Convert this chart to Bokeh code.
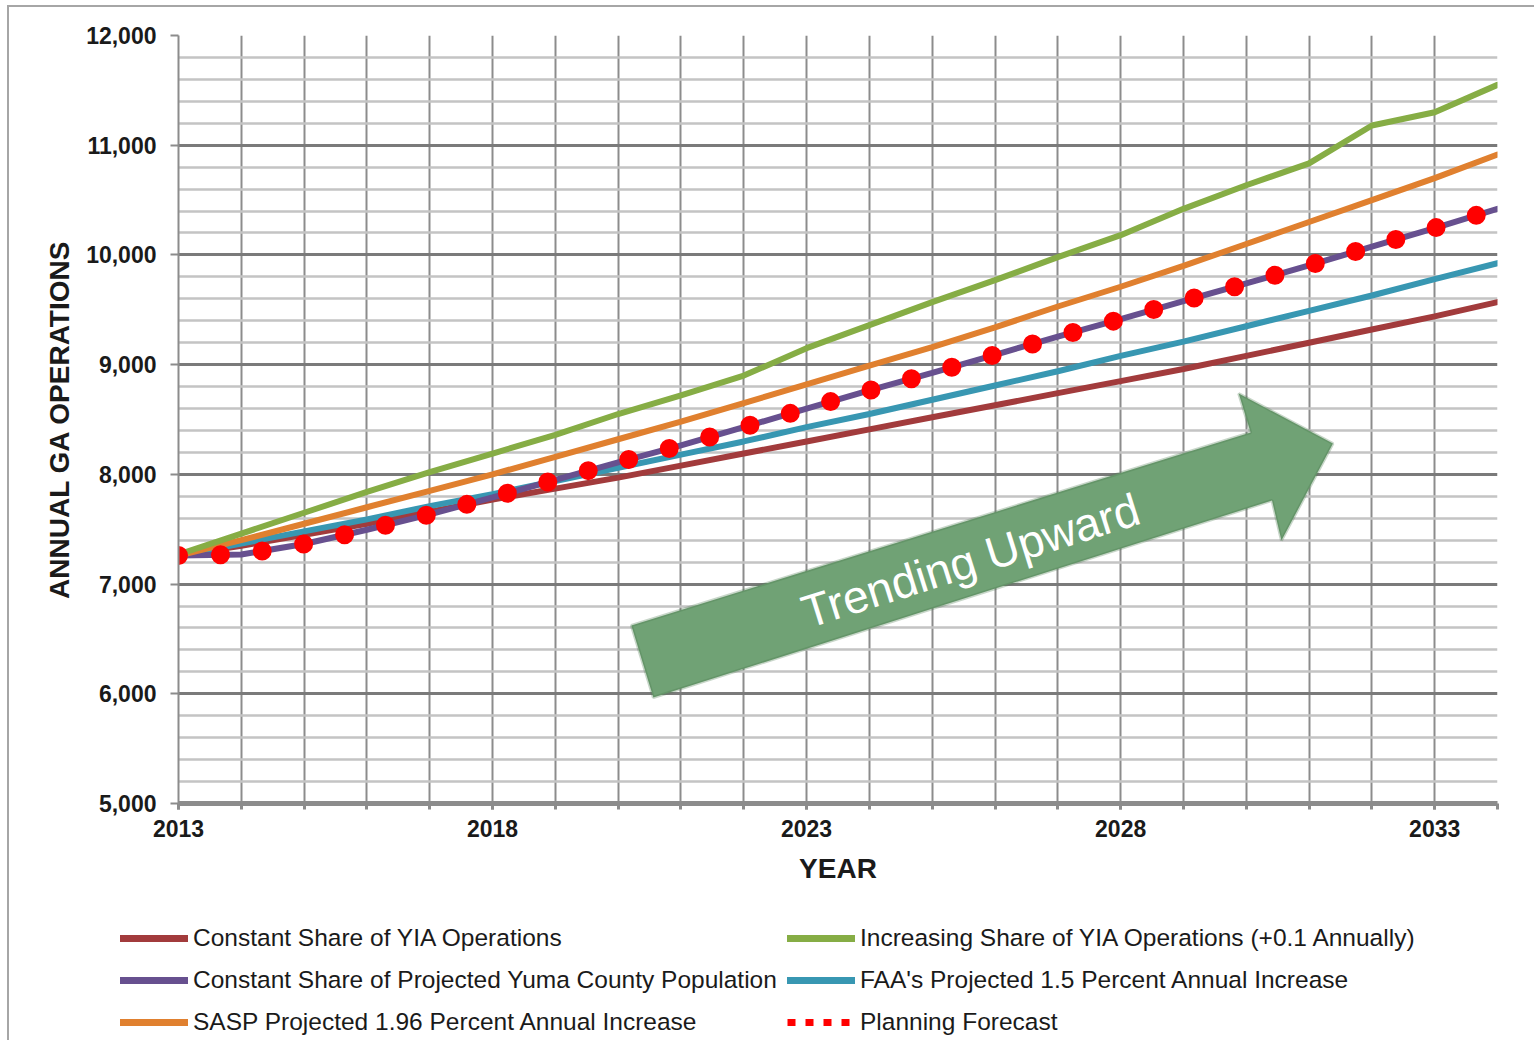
import math
from bokeh.plotting import figure
from bokeh.layouts import column
from bokeh.models import (FixedTicker, NumeralTickFormatter, Legend, LegendItem,
                          PolyAnnotation, Label)
from bokeh.embed import file_html
from bokeh.resources import INLINE

# ---------------- data ----------------
years = list(range(2013, 2035))
const_share_yia = [7260, 7350, 7450, 7550, 7660, 7770, 7870, 7970, 8080, 8190, 8300,
                   8410, 8520, 8630, 8740, 8850, 8960, 9080, 9200, 9320, 9440, 9570]
const_share_pop = [7260, 7270, 7365, 7495, 7635, 7790, 7950, 8110, 8265, 8430, 8600,
                   8765, 8925, 9090, 9255, 9415, 9580, 9740, 9905, 10075, 10245, 10420]
sasp_196 = [7260, 7400, 7550, 7700, 7850, 8000, 8160, 8320, 8480, 8650, 8820,
            8990, 9160, 9340, 9530, 9710, 9900, 10100, 10300, 10500, 10700, 10915]
increasing_share_yia = [7270, 7460, 7650, 7840, 8020, 8190, 8360, 8550, 8720, 8900, 9150,
                        9360, 9570, 9770, 9980, 10180, 10420, 10635, 10835, 11180, 11300, 11550]
faa_15 = [7260, 7370, 7480, 7590, 7710, 7820, 7940, 8060, 8180, 8300, 8430,
          8550, 8680, 8810, 8940, 9080, 9210, 9350, 9490, 9630, 9780, 9925]
planning_forecast = [7260, 7270, 7365, 7495, 7635, 7790, 7950, 8110, 8265, 8430, 8600,
                     8765, 8925, 9090, 9255, 9415, 9580, 9740, 9905, 10075, 10245, 10420]

x_label_years = [2013, 2018, 2023, 2028, 2033]
y_major = [5000, 6000, 7000, 8000, 9000, 10000, 11000, 12000]
y_minor = [v for v in range(5000, 12001, 200) if v % 1000 != 0]

labels = {
    "yia": "Constant Share of YIA Operations",
    "pop": "Constant Share of Projected Yuma County Population",
    "sasp": "SASP Projected 1.96 Percent Annual Increase",
    "inc": "Increasing Share of YIA Operations (+0.1 Annually)",
    "faa": "FAA's Projected 1.5 Percent Annual Increase",
    "plan": "Planning Forecast",
}

# decorative arrow annotation (data units)
arrow_x = [2020.21, 2030.07, 2029.88, 2031.38, 2030.56, 2030.41, 2020.56]
arrow_y = [6622, 8382, 8737, 8281, 7397, 7762, 5966]
arrow_text = "Trending Upward"

# ---------------- styling ----------------
FONT = "Liberation Sans"
C_BROWN = "#A23B3C"
C_PURPLE = "#67508F"
C_ORANGE = "#E0802F"
C_GREEN = "#86AD45"
C_TEAL = "#3897B2"
C_RED = "#FF0000"
GRID = "#8c8c8c"
LW = 6

p = figure(width=1525, height=893, output_backend="svg", toolbar_location=None,
           x_range=(2013, 2034), y_range=(5000, 12000),
           min_border_left=169, min_border_right=37, min_border_top=28,
           min_border_bottom=97)
p.outline_line_color = None
p.background_fill_color = "white"
p.border_fill_color = "white"

# axes
p.xaxis.ticker = FixedTicker(ticks=x_label_years, minor_ticks=years)
p.yaxis.ticker = FixedTicker(ticks=y_major, minor_ticks=[])
p.yaxis.formatter = NumeralTickFormatter(format="0,0")
p.xaxis.axis_label = "YEAR"
p.yaxis.axis_label = "ANNUAL GA OPERATIONS"
for ax in (p.xaxis[0], p.yaxis[0]):
    ax.axis_label_text_font = FONT
    ax.axis_label_text_font_style = "bold"
    ax.axis_label_text_font_size = "28px"
    ax.axis_label_text_color = "#1a1a1a"
    ax.major_label_text_font = FONT
    ax.major_label_text_font_style = "bold"
    ax.major_label_text_font_size = "23px"
    ax.major_label_text_color = "#1a1a1a"
    ax.major_tick_in = 0
    ax.minor_tick_in = 0
    ax.major_tick_line_color = GRID
    ax.minor_tick_line_color = GRID

p.xaxis.axis_line_color = GRID
p.xaxis.axis_line_width = 5
p.xaxis.major_tick_out = 6
p.xaxis.minor_tick_out = 6
p.xaxis.major_tick_line_width = 3
p.xaxis.minor_tick_line_width = 3
p.xaxis.major_label_standoff = 10
p.xaxis.axis_label_standoff = 13

p.yaxis.axis_line_color = GRID
p.yaxis.axis_line_width = 2
p.yaxis.major_tick_out = 8
p.yaxis.major_tick_line_width = 2
p.yaxis.minor_tick_line_color = None
p.yaxis.major_label_standoff = 14
p.yaxis.axis_label_standoff = 8

# grids
p.xgrid.ticker = FixedTicker(ticks=years)
p.xgrid.grid_line_color = GRID
p.xgrid.grid_line_width = 2
p.ygrid.ticker = FixedTicker(ticks=y_major, minor_ticks=y_minor)
p.ygrid.grid_line_color = "#7a7a7a"
p.ygrid.grid_line_width = 3
p.ygrid.minor_grid_line_color = "#c4c4c4"
p.ygrid.minor_grid_line_width = 2.5

# series
p.line(years, const_share_yia, line_color=C_BROWN, line_width=LW, line_cap="round")
p.line(years, faa_15, line_color=C_TEAL, line_width=LW, line_cap="round")
p.line(years, const_share_pop, line_color=C_PURPLE, line_width=LW, line_cap="round")
p.line(years, sasp_196, line_color=C_ORANGE, line_width=LW, line_cap="round")
p.line(years, increasing_share_yia, line_color=C_GREEN, line_width=LW, line_cap="round")
p.line(years, planning_forecast, line_color=C_RED, line_width=19,
       line_dash="0 42", line_cap="round")

# arrow annotation
p.add_layout(PolyAnnotation(xs=arrow_x, ys=arrow_y, fill_color="#70A275", fill_alpha=1.0,
                            line_color="#4A784C", line_width=3))
p.add_layout(Label(x=2025.61, y=7215, text=arrow_text, angle=math.radians(17.5),
                   text_align="center", text_baseline="middle", text_color="white",
                   text_font=FONT, text_font_size="46px"))

# ---------------- legend strip (separate figure) ----------------
lf = figure(width=1525, height=140, output_backend="svg", toolbar_location=None,
            x_range=(0, 1525), y_range=(0, 140),
            min_border_left=0, min_border_right=0, min_border_top=0, min_border_bottom=0)
lf.axis.visible = False
lf.grid.visible = False
lf.outline_line_color = None
lf.background_fill_alpha = 0
lf.border_fill_alpha = 0
lf.styles = {"margin-left": "-58px"}

# proxy renderers (data lies outside this strip's ranges; only the legend glyphs show)
l_yia = lf.line(years, const_share_yia, line_color=C_BROWN, line_width=7, line_cap="round")
l_pop = lf.line(years, const_share_pop, line_color=C_PURPLE, line_width=7, line_cap="round")
l_sasp = lf.line(years, sasp_196, line_color=C_ORANGE, line_width=7, line_cap="round")
l_inc = lf.line(years, increasing_share_yia, line_color=C_GREEN, line_width=7, line_cap="round")
l_faa = lf.line(years, faa_15, line_color=C_TEAL, line_width=7, line_cap="round")
l_plan = lf.line(years, planning_forecast, line_color=C_RED, line_width=7,
                 line_dash="8 10", line_cap="butt")

def make_legend(items, loc):
    lg = Legend(items=items, location=loc, orientation="vertical")
    lg.border_line_color = None
    lg.background_fill_alpha = 0
    lg.padding = 0
    lg.margin = 0
    lg.glyph_width = 68
    lg.glyph_height = 28
    lg.label_height = 28
    lg.spacing = 14
    lg.label_standoff = 5
    lg.label_text_font = FONT
    lg.label_text_font_size = "24.5px"
    lg.label_text_color = "#1a1a1a"
    lg.label_text_baseline = "middle"
    return lg

lf.add_layout(make_legend([
    LegendItem(label=labels["yia"], renderers=[l_yia]),
    LegendItem(label=labels["pop"], renderers=[l_pop]),
    LegendItem(label=labels["sasp"], renderers=[l_sasp]),
], (0, 4)), "center")
lf.add_layout(make_legend([
    LegendItem(label=labels["inc"], renderers=[l_inc]),
    LegendItem(label=labels["faa"], renderers=[l_faa]),
    LegendItem(label=labels["plan"], renderers=[l_plan]),
], (667, 4)), "center")

layout = column(p, lf, spacing=0)
layout.styles = {"margin-left": "7px", "margin-top": "5px",
                 "border-left": "2px solid #a6a6a6", "border-top": "2px solid #a6a6a6"}

open("out.html", "w").write(file_html(layout, INLINE))
